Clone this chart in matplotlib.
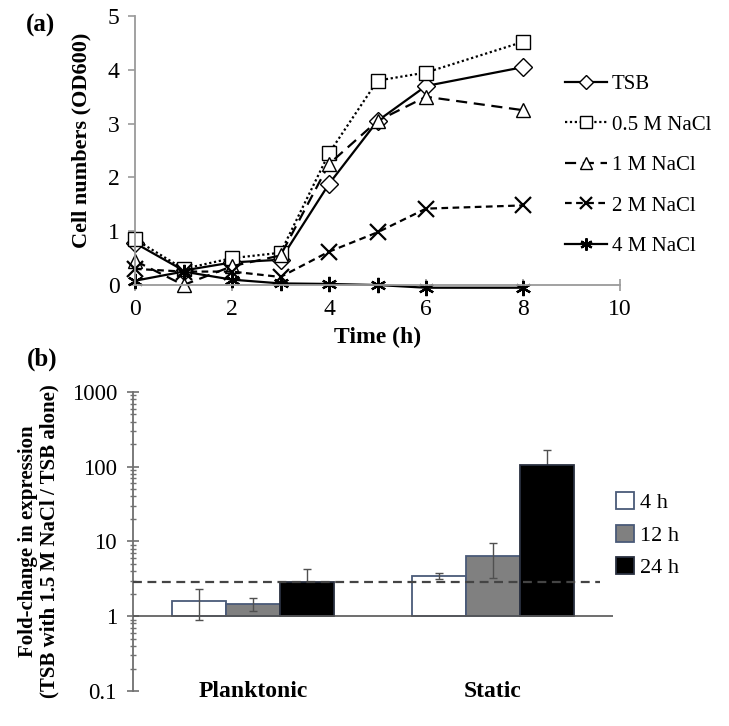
import numpy as np
import matplotlib
matplotlib.use("Agg")
import matplotlib.pyplot as plt
from matplotlib.patches import Patch

plt.rcParams["font.family"] = ["Liberation Serif", "DejaVu Serif"]

# ---- panel (a): growth curves ----
time_h = [0, 1, 2, 3, 4, 5, 6, 8]
od_tsb = [0.78, 0.27, 0.42, 0.47, 1.88, 3.05, 3.70, 4.05]
od_05m = [0.85, 0.30, 0.50, 0.60, 2.45, 3.80, 3.95, 4.52]
od_1m = [0.45, 0.00, 0.35, 0.55, 2.25, 3.05, 3.50, 3.25]
od_2m = [0.30, 0.25, 0.25, 0.15, 0.62, 0.98, 1.42, 1.48]
od_4m = [0.08, 0.25, 0.10, 0.03, 0.02, 0.00, -0.05, -0.05]
series_names = ["TSB", "0.5 M NaCl", "1 M NaCl", "2 M NaCl", "4 M NaCl"]

# ---- panel (b): fold change ----
groups = ["Planktonic", "Static"]
time_labels = ["4 h", "12 h", "24 h"]
fold_4h = [1.60, 3.46]
fold_12h = [1.45, 6.35]
fold_24h = [2.88, 107.0]
err_4h = [0.72, 0.35]
err_12h = [0.28, 3.1]
err_24h = [1.35, 58.0]
ref_level = 2.88

fig = plt.figure(figsize=(7.29, 7.26), dpi=100)

# ================= (a) =================
ax = fig.add_axes([0.1852, 0.6074, 0.6653, 0.3705])
styles = [
    dict(marker="D", ls="-", ms=9),
    dict(marker="s", ls=(0, (1, 1.2)), ms=10),
    dict(marker="^", ls=(0, (5, 3)), ms=10),
    dict(marker="x", ls=(0, (3, 2)), ms=11, mew=1.6),
    dict(marker=(6, 2, 0), ls="-", ms=11, mew=1.6),
]
for vals, name, st in zip([od_tsb, od_05m, od_1m, od_2m, od_4m], series_names, styles):
    ax.plot(time_h, vals, color="black", lw=1.6, mfc="white", mec="black",
            label=name, clip_on=False, **st)
ax.set_xlim(0, 10)
ax.set_ylim(0, 5)
ax.set_xticks(range(0, 11, 2))
ax.set_yticks(range(0, 6))
for s in ("top", "right"):
    ax.spines[s].set_visible(False)
for s in ("left", "bottom"):
    ax.spines[s].set_color("#9a9a9a")
    ax.spines[s].set_linewidth(1.3)
ax.tick_params(axis="y", direction="out", length=5, width=1.2, color="#9a9a9a",
               labelsize=17, pad=6)
ax.tick_params(axis="x", direction="inout", length=8, width=1.2, color="#9a9a9a",
               labelsize=17, pad=6)
ax.set_xlabel("Time (h)", fontsize=17, fontweight="bold", labelpad=5)
fig.text(0.112, 0.807, "Cell numbers (OD600)", rotation=90, fontsize=16,
         fontweight="bold", ha="center", va="center")
ax.legend(loc="upper left", bbox_to_anchor=(0.775, 0.897),
          bbox_transform=fig.transFigure, frameon=False, fontsize=15,
          handlelength=2.0, handletextpad=0.25, labelspacing=1.0,
          borderpad=0, borderaxespad=0, markerscale=0.8)
fig.text(0.055, 0.965, "(a)", fontsize=18, fontweight="bold", ha="center", va="center")

# ================= (b) =================
bx = fig.add_axes([0.1824, 0.0482, 0.6584, 0.4119])
x = np.arange(len(groups))
w = 0.225
face = ["white", "#808080", "black"]
edge = ["#4a5a78", "#4a5a78", "#2a3040"]
for i, (vals, errs) in enumerate([(fold_4h, err_4h), (fold_12h, err_12h), (fold_24h, err_24h)]):
    vals = np.array(vals)
    bx.bar(x + (i - 1) * w, vals - 1, width=w, bottom=1, color=face[i], edgecolor=edge[i],
           lw=1.3, zorder=2, label=time_labels[i])
    bx.errorbar(x + (i - 1) * w, vals, yerr=errs, fmt="none", ecolor="#505050",
                elinewidth=1, capsize=3, capthick=1, zorder=1 if i == 2 else 3)
bx.set_yscale("log")
bx.set_ylim(0.1, 1000)
bx.set_xlim(-0.5, 1.5)
bx.axhline(1, color="#555555", lw=1.2, zorder=4)
bx.axhline(ref_level, xmin=0, xmax=0.973, color="#444444", lw=1.6, ls=(0, (4, 2.5)), zorder=5)
for s in ("top", "right", "bottom"):
    bx.spines[s].set_visible(False)
bx.spines["left"].set_color("#707070")
bx.spines["left"].set_linewidth(1.3)
bx.set_xticks([])
bx.set_yticks([0.1, 1, 10, 100, 1000])
bx.set_yticklabels(["0.1", "1", "10", "100", "1000"])
bx.tick_params(axis="y", which="major", direction="inout", length=9, width=1.2,
               color="#707070", labelsize=16.5, pad=7)
bx.tick_params(axis="y", which="minor", direction="inout", length=5, width=1.0,
               color="#707070")
for xi, name in zip(x, groups):
    bx.text(xi, 0.1, name, ha="center", va="center", fontsize=17, fontweight="bold")
fig.text(0.053, 0.254, "Fold-change in expression\n(TSB with 1.5 M NaCl / TSB alone)",
         rotation=90, fontsize=15, fontweight="bold", ha="center", va="center",
         multialignment="center", linespacing=1.05)
handles = [Patch(facecolor=face[i], edgecolor=edge[i], lw=1.3) for i in range(3)]
bx.legend(handles, time_labels, loc="upper left", bbox_to_anchor=(0.845, 0.322),
          bbox_transform=fig.transFigure, frameon=False, fontsize=16,
          handlelength=0.8, handleheight=0.8, handletextpad=0.3,
          labelspacing=0.5, borderpad=0, borderaxespad=0)
fig.text(0.058, 0.505, "(b)", fontsize=18, fontweight="bold", ha="center", va="center")

fig.savefig("out.png", dpi=100)
